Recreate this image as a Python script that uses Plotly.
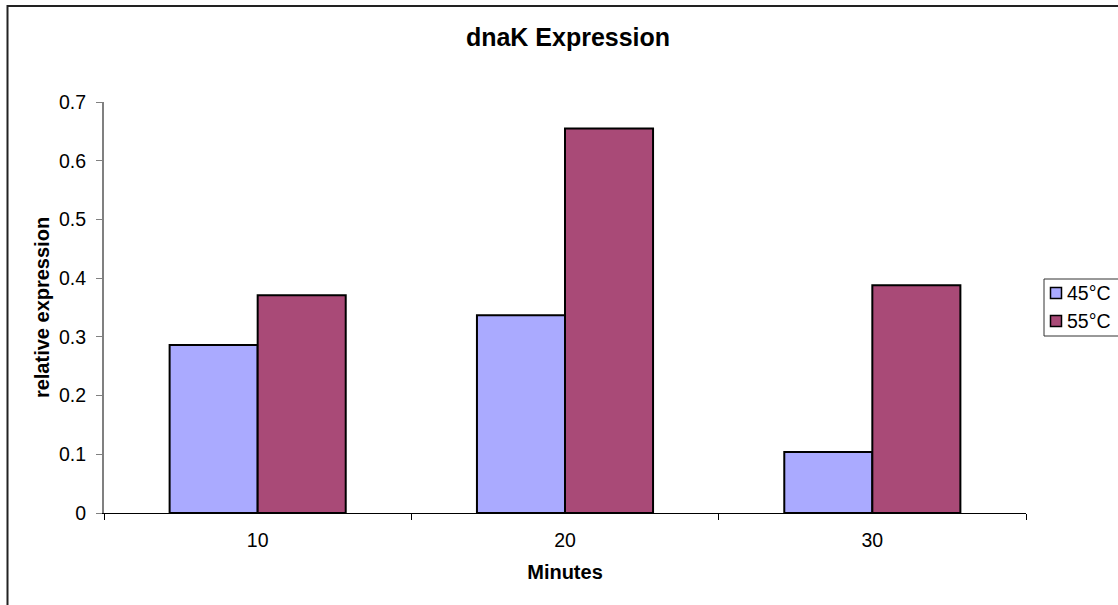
import plotly.graph_objects as go

categories = ["10", "20", "30"]
series_names = ["45°C", "55°C"]
series_colors = ["#AAAAFF", "#A94A77"]
values_45 = [0.286, 0.337, 0.104]
values_55 = [0.371, 0.655, 0.388]
y_ticks = [0, 0.1, 0.2, 0.3, 0.4, 0.5, 0.6, 0.7]
y_tick_labels = ["0", "0.1", "0.2", "0.3", "0.4", "0.5", "0.6", "0.7"]

FONT = "Liberation Sans, Arial, sans-serif"
W, H = 1118, 605
L, R, T, B = 104, 92, 102, 92
PW = W - L - R
PH = H - T - B


def px_x(x):
    return (x - L) / PW


def px_y(y):
    return (H - B - y) / PH


fig = go.Figure()
for name, vals, col in zip(series_names, [values_45, values_55], series_colors):
    fig.add_trace(go.Bar(
        x=categories, y=vals, name=name, showlegend=False,
        marker=dict(color=col, line=dict(color="#000000", width=2)),
    ))

fig.update_layout(
    width=W, height=H,
    margin=dict(l=L, r=R, t=T, b=B, pad=0, autoexpand=False),
    paper_bgcolor="white", plot_bgcolor="white",
    barmode="group", bargap=0.427, bargroupgap=0,
    font=dict(family=FONT, size=19.5, color="#000000"),
    title=dict(text="<b>dnaK Expression</b>", x=568 / W, xanchor="center",
               y=1 - 37 / H, yanchor="middle",
               font=dict(family=FONT, size=25, color="#000000")),
    showlegend=False,
    xaxis=dict(
        type="category", showline=True, linecolor="#000000", linewidth=1,
        ticks="outside", tickson="boundaries", ticklen=6, tickcolor="#000000",
        tickwidth=1, showgrid=False, zeroline=False, ticklabelstandoff=10,
        tickfont=dict(family=FONT, size=19.5, color="#000000"),
        title=dict(text="<b>Minutes</b>", standoff=14,
                   font=dict(family=FONT, size=20, color="#000000")),
    ),
    yaxis=dict(
        range=[0, 0.7], tickvals=y_ticks, ticktext=y_tick_labels,
        showline=True, linecolor="#808080", linewidth=2,
        ticks="outside", ticklen=6, tickcolor="#808080", tickwidth=1,
        showgrid=False, zeroline=False, ticklabelstandoff=6,
        tickfont=dict(family=FONT, size=19.5, color="#000000"),
        title=dict(text="<b>relative expression</b>", standoff=4,
                   font=dict(family=FONT, size=20, color="#000000")),
    ),
)

# legend box
fig.add_shape(type="rect", xref="paper", yref="paper",
              x0=px_x(1044), x1=px_x(1140), y0=px_y(336), y1=px_y(279),
              line=dict(color="#333333", width=1), fillcolor="rgba(0,0,0,0)")
# legend entries
legend_rows_y = [293, 321]
for name, col, ly in zip(series_names, series_colors, legend_rows_y):
    fig.add_shape(type="rect", xref="paper", yref="paper",
                  x0=px_x(1050.5), x1=px_x(1061.5), y0=px_y(ly + 5.5), y1=px_y(ly - 5.5),
                  line=dict(color="#000000", width=1.5), fillcolor=col)
    fig.add_annotation(xref="paper", yref="paper", x=px_x(1065), y=px_y(ly),
                       xanchor="left", yanchor="middle", showarrow=False,
                       text=name, font=dict(family=FONT, size=19.5, color="#000000"))
# outer chart border
fig.add_shape(type="rect", xref="paper", yref="paper",
              x0=px_x(7.5), x1=px_x(1140), y0=px_y(640), y1=px_y(6),
              line=dict(color="#222222", width=2), fillcolor="rgba(0,0,0,0)")

fig.write_html("out.html")
